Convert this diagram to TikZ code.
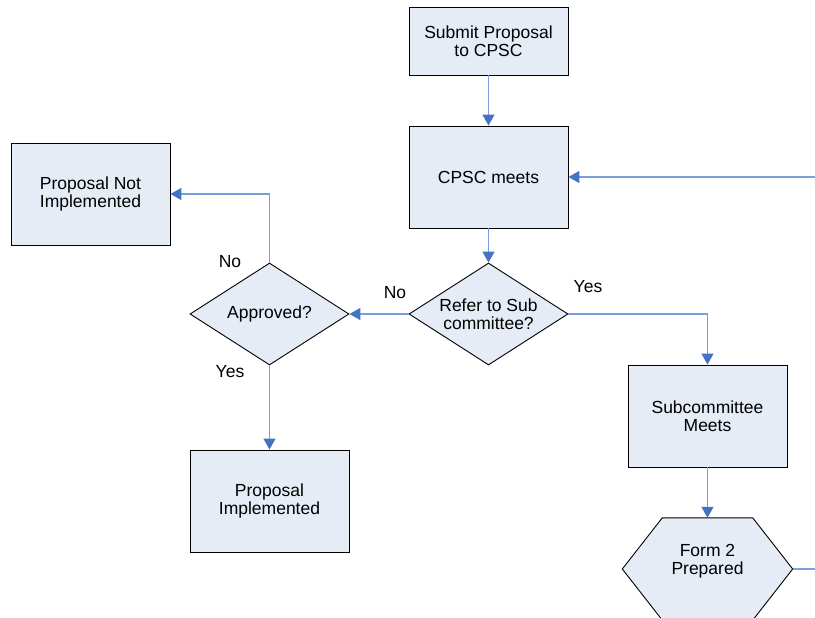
\documentclass[tikz,border=0pt]{standalone}
\usepackage{fontspec}
\setmainfont{Liberation Sans}
\usetikzlibrary{shapes.geometric,arrows.meta,backgrounds}

\definecolor{boxfill}{RGB}{230,236,246}
\definecolor{flowline}{RGB}{120,160,218}
\definecolor{flowhead}{RGB}{70,114,196}

\tikzset{
	procbox/.style={draw=black,fill=boxfill,line width=0.9pt,minimum width=159pt,minimum height=102pt,align=center,inner sep=0pt},
	askbox/.style={draw=black,fill=boxfill,line width=0.9pt,diamond,aspect=1.56,minimum width=159pt,minimum height=102pt,align=center,inner sep=0pt},
	prepbox/.style={minimum width=170pt,minimum height=102pt,align=center,inner sep=0pt},
	prepline/.style={draw=black,fill=boxfill,line width=0.9pt},
	flow/.style={draw=flowline,line width=1.5pt,-{Triangle[length=11pt,width=12pt,color=flowhead]}},
	flowend/.style={draw=flowline,line width=1.5pt},
	tag/.style={inner sep=0pt}
}

\begin{document}
\begin{tikzpicture}[x=1pt,y=-1pt,font=\fontsize{17.5}{18}\selectfont]
	\useasboundingbox (0,0) rectangle (815,618);

	% boxes
	\node[procbox,minimum height=68pt] (submit) at (488.5,41) {Submit Proposal\\to CPSC};
	\node[procbox] (cpsc) at (488.5,177) {CPSC meets};
	\node[askbox] (refer) at (488.5,314) {Refer to Sub\\committee?};
	\node[askbox] (approved) at (269.5,314) {Approved?};
	\node[procbox] (notimpl) at (90.5,194) {Proposal Not\\Implemented};
	\node[procbox] (impl) at (269.5,501) {Proposal\\Implemented};
	\node[procbox] (subcomm) at (707.5,416) {Subcommittee\\Meets};
	\node[prepbox] (form) at (707.5,569) {\raisebox{7pt}[\height][\depth]{\begin{tabular}{@{}c@{}}Form 2\\Prepared\end{tabular}}};
	% hexagon outline behind the text
	\begin{scope}[on background layer]
		\draw[prepline] (form.west) -- ([xshift=40pt]form.north west) -- ([xshift=-40pt]form.north east)
			-- (form.east) -- ([xshift=-40pt]form.south east) -- ([xshift=40pt]form.south west) -- cycle;
	\end{scope}

	% loose ends at the right edge
	\coordinate (backin) at (815,177);
	\coordinate (formout) at (815,569);

	% connectors
	\draw[flow] (submit) -- (cpsc);
	\draw[flow] (backin) -- (cpsc.east);
	\draw[flow] (cpsc) -- (refer);
	\draw[flow] (refer.west) -- (approved.east);
	\draw[flow] (refer.east) -| (subcomm.north);
	\draw[flow] (approved.north) |- (notimpl.east);
	\draw[flow] (approved.south) -- (impl.north);
	\draw[flow] (subcomm) -- (form.north);
	\draw[flowend] (form.east) -- (formout);

	% labels
	\node[tag] (noA) at (230,262) {No};
	\node[tag] (yesA) at (230,372) {Yes};
	\node[tag] (noR) at (395,293) {No};
	\node[tag] (yesR) at (588,287) {Yes};

\end{tikzpicture}
\end{document}
